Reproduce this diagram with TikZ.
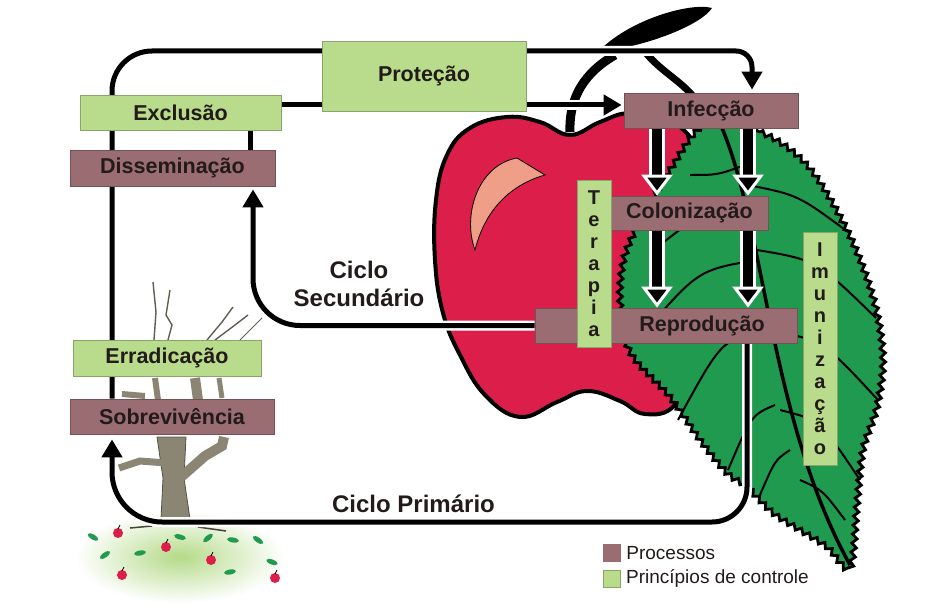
\documentclass[tikz,border=0pt]{standalone}
\usepackage{fontspec}
\setmainfont{Liberation Sans}
\usetikzlibrary{arrows.meta,positioning,decorations.pathmorphing}

\pgfdeclarelayer{art}
\pgfdeclarelayer{links}
\pgfsetlayers{art,links,main}

\definecolor{procfill}{HTML}{9A6D72}
\definecolor{ctrlfill}{HTML}{B8DC8C}
\definecolor{applered}{HTML}{DC1E4A}
\definecolor{leafgreen}{HTML}{1F9A4E}
\definecolor{shine}{HTML}{EF9E88}
\definecolor{bark}{HTML}{8B8573}
\definecolor{groundgreen}{HTML}{B4DA88}
\definecolor{ink}{HTML}{231A1A}

\tikzset{
  process/.style={rectangle, fill=procfill, draw=procfill!75!black, line width=0.8pt,
    text=ink, font=\bfseries\fontsize{21.5}{25}\selectfont, inner sep=0pt},
  control/.style={rectangle, fill=ctrlfill, draw=ctrlfill!75!black, line width=0.8pt,
    text=ink, font=\bfseries\fontsize{21.5}{25}\selectfont, inner sep=0pt},
  upright/.style={control, font=\bfseries\fontsize{20}{22}\selectfont, align=center,
    minimum width=34pt},
  loopline/.style={line width=5pt, -{Triangle[length=18pt,width=20pt]}},
  haloline/.style={loopline, preaction={draw=white, line width=10pt, -, shorten >=16pt}},
  fatarrow/.style={line width=10pt, preaction={draw=white, line width=16pt, -, shorten >=18pt},
    -{Triangle[length=21pt,width=31pt,line width=3pt,color=white,fill=black]}},
  cyclelabel/.style={font=\bfseries\fontsize{24}{28}\selectfont, align=center, text=ink},
  legendtext/.style={font=\fontsize{19}{22}\selectfont, text=ink, inner sep=0pt},
}

\begin{document}
\begin{tikzpicture}[x=1pt,y=-1pt]
    \useasboundingbox (0,0) rectangle (930,610);

    % Draw nodes
    \node[control, minimum width=204pt, minimum height=70pt] (prot) at (424,76) {Proteção};
    \node[control, minimum width=201pt, minimum height=35pt] (excl) at (180.5,112.5) {Exclusão};
    \node[process, minimum width=205pt, minimum height=36pt] (diss) at (172.5,168) {Disseminação};
    \node[process, minimum width=174pt, minimum height=35pt] (infec) at (711,110.5) {Infecção};
    \node[process, minimum width=157pt, minimum height=34pt] (colon) at (689.5,213) {Colonização};
    \node[process, minimum width=262pt, minimum height=35pt] (repro) at (666,325.5) {\hspace*{72pt}Reprodução};
    \node[upright, minimum height=167pt] (terap) at (594,263.5) {T\\e\\r\\a\\p\\i\\a};
    \node[upright, minimum height=233pt] (imun) at (820,348.5) {I\\m\\u\\n\\i\\z\\a\\ç\\ã\\o};
    \node[control, minimum width=188pt, minimum height=36pt] (errad) at (167,358) {Erradicação};
    \node[process, minimum width=204pt, minimum height=35pt] (sobr) at (172,416.5) {Sobrevivência};

    \node[cyclelabel] (seclabel) at (359,284) {Ciclo\\Secundário};
    \node[cyclelabel] (primlabel) at (413.5,504) {Ciclo Primário};

    % Legend
    \node[rectangle, fill=procfill, minimum size=18pt, inner sep=0pt] (legproc) at (612,553) {};
    \node[rectangle, fill=ctrlfill, draw=ctrlfill!75!black, line width=0.8pt, minimum size=17pt, inner sep=0pt] (legctrl) at (612,578.5) {};
    \node[legendtext, right=5pt of legproc] (legproctext) {Processos};
    \node[legendtext, right=5pt of legctrl] (legctrltext) {Princípios de controle};

    % Connectors
    \begin{pgfonlayer}{links}
    \coordinate (lx) at (112,0);
    \coordinate (rx) at (752,0);
    \coordinate (sx) at (253,0);
    \coordinate (px) at (747,0);
    \coordinate (dx) at (250,0);
    \coordinate (ay) at (0,105);
    \coordinate (fa) at (657,0);
    \coordinate (fb) at (748,0);

    \draw[loopline, shorten >=3pt, preaction={draw=white, line width=10pt, -, shorten >=16pt}]
        (sobr.north -| lx) -- (112,91) to[out=90,in=180] (152,51)
        -- (736,51) to[out=0,in=90] (752,67) -- (infec.north -| rx);
    \draw[loopline, shorten >=2pt, preaction={draw=white, line width=10pt, -, shorten >=16pt}]
        (excl.east |- ay) -- (infec.west |- ay);
    \draw[line width=5pt] (excl.south -| dx) -- (diss.north -| dx);

    \draw[haloline, shorten >=3pt] (repro.west) -- (300,325.5) to[out=180,in=-90] (253,278.5)
        -- (diss.south -| sx);
    \draw[haloline, shorten >=5pt] (repro.south -| px) -- (747,487) to[out=-90,in=0] (712,522)
        -- (162,522) to[out=180,in=-90] (112,472) -- (sobr.south -| lx);

    \draw[fatarrow] (infec.south -| fa) -- (colon.north -| fa);
    \draw[fatarrow] (infec.south -| fb) -- (colon.north -| fb);
    \draw[fatarrow] (colon.south -| fa) -- (repro.north -| fa);
    \draw[fatarrow] (colon.south -| fb) -- (repro.north -| fb);
    \end{pgfonlayer}

    % Apple, leaf, tree
    \begin{pgfonlayer}{art}
    \draw[fill=applered, line width=4pt] plot[smooth cycle, tension=0.7] coordinates {
        (570,135) (540,122) (507,117) (470,128) (447,155) (436,200) (435,260) (443,313)
        (460,355) (485,395) (520,417) (557,402) (587,391) (620,401) (645,414) (675,405)
        (695,360) (705,250) (700,160) (670,120) (630,113) (600,122)};
    \draw[fill=shine, line width=0.8pt] (475,250) .. controls (462,215) and (478,165) .. (517,158)
        -- (545,175) .. controls (510,185) and (485,210) .. (475,250) -- cycle;
    \draw[line width=9pt] (570,132) to[out=92,in=210] (615,55);
    \fill (598,52) .. controls (628,20) and (690,2) .. (712,8)
        .. controls (702,24) and (650,46) .. (598,52) -- cycle;
    \draw[line width=7pt] (645,52) to[out=-50,in=125] (700,105);

    \draw[fill=leafgreen, line width=2.8pt, decorate, decoration={zigzag, segment length=9pt, amplitude=2.5pt}]
        plot[smooth cycle, tension=0.55] coordinates {
        (705,125) (760,132) (807,165) (847,230) (873,297) (883,357) (877,407) (863,450)
        (857,505) (850,568) (827,547) (800,530) (773,513) (747,487) (727,473) (700,440)
        (670,397) (630,352) (620,300) (625,255) (645,212) (670,170)};
    \draw[line width=3.5pt] (722,128) .. controls (765,230) and (770,420) .. (850,565);
    \foreach \va/\vb/\vc/\vd in {750/200/660/245, 757/260/638/340, 765/330/678/420, 775/405/728/470,
        745/165/690/175, 748/185/848/232, 757/250/876/318, 767/330/878/400, 780/410/860/480,
        800/480/845/520, 790/450/760/495} {
      \draw[line width=2pt] (\va,\vb) .. controls ({(\va+\vc)/2},{\vb+10}) .. (\vc,\vd);
    }

    \shade[inner color=groundgreen, outer color=white] (180,557) ellipse [x radius=105, y radius=46];
    \draw[bark!50!black, line width=1.5pt] (130,528) -- (152,526) (198,527) -- (226,531);
    \fill[bark, draw=bark!60!black, line width=0.8pt] (161,519) -- (163,478) -- (157,437)
        -- (186,437) -- (184,478) -- (190,519) -- cycle;
    \draw[bark, line width=10pt] (180,478) -- (205,456) -- (222,446) -- (224,437);
    \draw[bark, line width=7pt] (166,463) -- (140,461) -- (119,468);
    \draw[bark, line width=6pt] (122,394) -- (145,396);
    \draw[bark, line width=6pt] (155,378) -- (158,400);
    \draw[bark, line width=10pt] (195,378) -- (198,400);
    \draw[bark, line width=5pt] (219,378) -- (222,398);
    \draw[bark!70!black, line width=1.4pt] (153,282) -- (156,312) -- (154,340);
    \draw[bark!70!black, line width=1.4pt] (170,290) -- (166,315) -- (172,325) -- (168,340);
    \draw[bark!70!black, line width=1.4pt] (207,340) -- (222,322) -- (233,307);
    \draw[bark!70!black, line width=1.4pt] (215,340) -- (235,325) -- (248,315);
    \draw[bark!70!black, line width=1pt] (240,340) -- (262,318);

    \foreach \ax/\ay in {118/533, 166/547, 211/560, 122/575, 275/578} {
      \fill[applered] (\ax,\ay) circle[radius=5];
      \draw[line width=0.8pt] (\ax,\ay-4) -- (\ax+2,\ay-8);
    }
    \foreach \lx/\ly/\lr in {93/537/-30, 105/555/35, 140/553/10, 180/537/-15, 208/538/40,
        233/540/-10, 258/540/-35, 272/562/-20, 230/572/10} {
      \fill[leafgreen] (\lx,\ly) ellipse[x radius=6, y radius=2.5, rotate=\lr];
    }
    \end{pgfonlayer}
\end{tikzpicture}
\end{document}
